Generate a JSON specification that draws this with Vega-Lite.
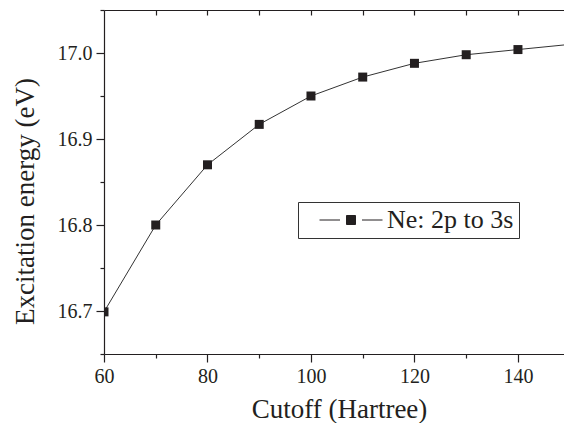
{
  "$schema": "https://vega.github.io/schema/vega-lite/v6.json",
  "autosize": "none",
  "padding": {"left": 104, "top": 10, "right": 0, "bottom": 69},
  "width": 460,
  "height": 344,
  "background": "white",
  "config": {
    "font": "Liberation Serif",
    "view": {"stroke": null},
    "axis": {
      "domainColor": "#231f20",
      "tickColor": "#231f20",
      "labelColor": "#231f20",
      "titleColor": "#231f20",
      "labelFont": "Liberation Serif",
      "titleFont": "Liberation Serif",
      "labelFontSize": 20,
      "titleFontSize": 27,
      "titleFontWeight": "normal",
      "grid": false,
      "domainWidth": 1.2,
      "tickWidth": 1.2,
      "labelOverlap": false,
      "labelFlush": false
    }
  },
  "data": {
    "values": [
      {"cutoff": 60, "energy": 16.699, "series": "Ne: 2p to 3s"},
      {"cutoff": 70, "energy": 16.800, "series": "Ne: 2p to 3s"},
      {"cutoff": 80, "energy": 16.870, "series": "Ne: 2p to 3s"},
      {"cutoff": 90, "energy": 16.917, "series": "Ne: 2p to 3s"},
      {"cutoff": 100, "energy": 16.950, "series": "Ne: 2p to 3s"},
      {"cutoff": 110, "energy": 16.972, "series": "Ne: 2p to 3s"},
      {"cutoff": 120, "energy": 16.988, "series": "Ne: 2p to 3s"},
      {"cutoff": 130, "energy": 16.998, "series": "Ne: 2p to 3s"},
      {"cutoff": 140, "energy": 17.004, "series": "Ne: 2p to 3s"},
      {"cutoff": 150, "energy": 17.010, "series": "Ne: 2p to 3s"}
    ]
  },
  "encoding": {
    "y": {
      "field": "energy",
      "type": "quantitative",
      "scale": {"domain": [16.65, 17.05], "nice": false, "zero": false},
      "axis": {
        "title": "Excitation energy (eV)",
        "values": [16.65, 16.7, 16.75, 16.8, 16.85, 16.9, 16.95, 17.0, 17.05],
        "labelExpr": "abs(datum.value*10 - round(datum.value*10)) < 0.001 ? format(datum.value, '.1f') : ''",
        "tickSize": {"expr": "abs(datum.value*10 - round(datum.value*10)) < 0.001 ? 8 : 4"},
        "labelPadding": 4,
        "titleBaseline": "alphabetic",
        "titleX": -71,
        "titleY": 191,
        "titleAnchor": "middle"
      }
    }
  },
  "layer": [
    {
      "mark": {"type": "line", "clip": true, "color": "#333333", "strokeWidth": 1},
      "encoding": {
        "x": {
          "field": "cutoff",
          "type": "quantitative",
          "scale": {"domain": [60, 148.9], "nice": false, "zero": false},
          "axis": {
            "orient": "bottom",
            "title": "Cutoff (Hartree)",
            "values": [60, 70, 80, 90, 100, 110, 120, 130, 140],
            "labelExpr": "datum.value % 20 == 0 ? datum.label : ''",
            "tickSize": {"expr": "datum.value % 20 == 0 ? 8 : 4"},
            "labelPadding": 4,
            "titleBaseline": "alphabetic",
            "titleX": 235,
            "titleY": 63,
            "titleAnchor": "middle"
          }
        }
      }
    },
    {
      "mark": {"type": "point", "shape": "square", "filled": true, "size": 81, "opacity": 1, "clip": true},
      "encoding": {
        "x": {
          "field": "cutoff",
          "type": "quantitative",
          "scale": {"domain": [60, 148.9], "nice": false, "zero": false},
          "axis": {
            "orient": "top",
            "title": null,
            "labels": false,
            "values": [70, 80, 90, 100, 110, 120, 130, 140],
            "tickSize": -5
          }
        },
        "color": {
          "field": "series",
          "type": "nominal",
          "scale": {"range": ["#231f20"]},
          "legend": {
            "title": null,
            "orient": "none",
            "legendX": 194,
            "legendY": 192,
            "strokeColor": "#333333",
            "fillColor": "white",
            "padding": 5,
            "symbolType": "M-6.3,0H-2.2M2.2,0H6.3M-0.9,-0.9H0.9V0.9H-0.9Z",
            "symbolSize": 100,
            "symbolOffset": 35,
            "labelOffset": 23,
            "symbolStrokeColor": "#231f20",
            "symbolStrokeWidth": 1,
            "symbolFillColor": "#231f20",
            "labelFont": "Liberation Serif",
            "labelFontSize": 26,
            "labelColor": "#231f20",
            "encode": {
              "symbols": {"update": {"stroke": {"value": "#231f20"}, "strokeWidth": {"value": 1}, "fill": {"value": "#231f20"}, "opacity": {"value": 1}}}
            }
          }
        }
      }
    }
  ],
  "resolve": {"axis": {"x": "independent"}}
}
